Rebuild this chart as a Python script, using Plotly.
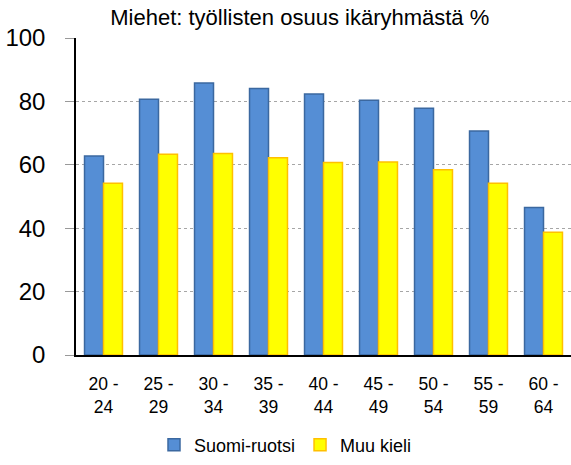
import plotly.graph_objects as go

age_groups = ["20 -<br>24", "25 -<br>29", "30 -<br>34", "35 -<br>39", "40 -<br>44",
              "45 -<br>49", "50 -<br>54", "55 -<br>59", "60 -<br>64"]
suomi_ruotsi = [62.8, 80.7, 85.8, 84.1, 82.3, 80.4, 77.8, 70.7, 46.5]
muu_kieli = [54.2, 63.3, 63.6, 62.2, 60.7, 60.9, 58.4, 54.2, 38.7]
y_ticks = [0, 20, 40, 60, 80, 100]

font_family = "Liberation Sans, Arial, sans-serif"

fig = go.Figure()
fig.add_trace(go.Bar(
    name="Suomi-ruotsi", x=age_groups, y=suomi_ruotsi,
    marker=dict(color="#558ED5", line=dict(color="#3B68A0", width=1.5)),
))
fig.add_trace(go.Bar(
    name="Muu kieli", x=age_groups, y=muu_kieli,
    marker=dict(color="#FFFF00", line=dict(color="#FFC000", width=1.5)),
))

fig.update_layout(
    width=571, height=465,
    margin=dict(l=76, r=0, t=38, b=110),
    paper_bgcolor="white", plot_bgcolor="white",
    barmode="group", bargap=0.31, bargroupgap=0,
    font=dict(family=font_family, color="black"),
    title=dict(text="Miehet: työllisten osuus ikäryhmästä %",
               x=0.525, xanchor="center", y=0.962, yanchor="middle",
               xref="container", yref="container",
               font=dict(size=22, color="black", family=font_family)),
    legend=dict(orientation="h", x=0.5, xanchor="center", xref="container",
                y=0.043, yanchor="middle", yref="container",
                font=dict(size=18, family=font_family),
                itemwidth=30, traceorder="normal"),
    showlegend=True,
)
fig.update_yaxes(
    range=[0, 100], tickvals=y_ticks,
    tickfont=dict(size=24, family=font_family),
    showgrid=True, gridcolor="#A6A6A6", griddash="dot", gridwidth=1,
    showline=True, linecolor="black", linewidth=1.5,
    ticks="outside", ticklen=9, tickcolor="#999999",
    ticklabelstandoff=15,
    zeroline=False, fixedrange=True,
)
fig.update_xaxes(
    tickfont=dict(size=17.5, family=font_family),
    showline=True, linecolor="black", linewidth=1.5,
    ticks="", ticklabelstandoff=12, fixedrange=True,
)

fig.write_html("out.html")
